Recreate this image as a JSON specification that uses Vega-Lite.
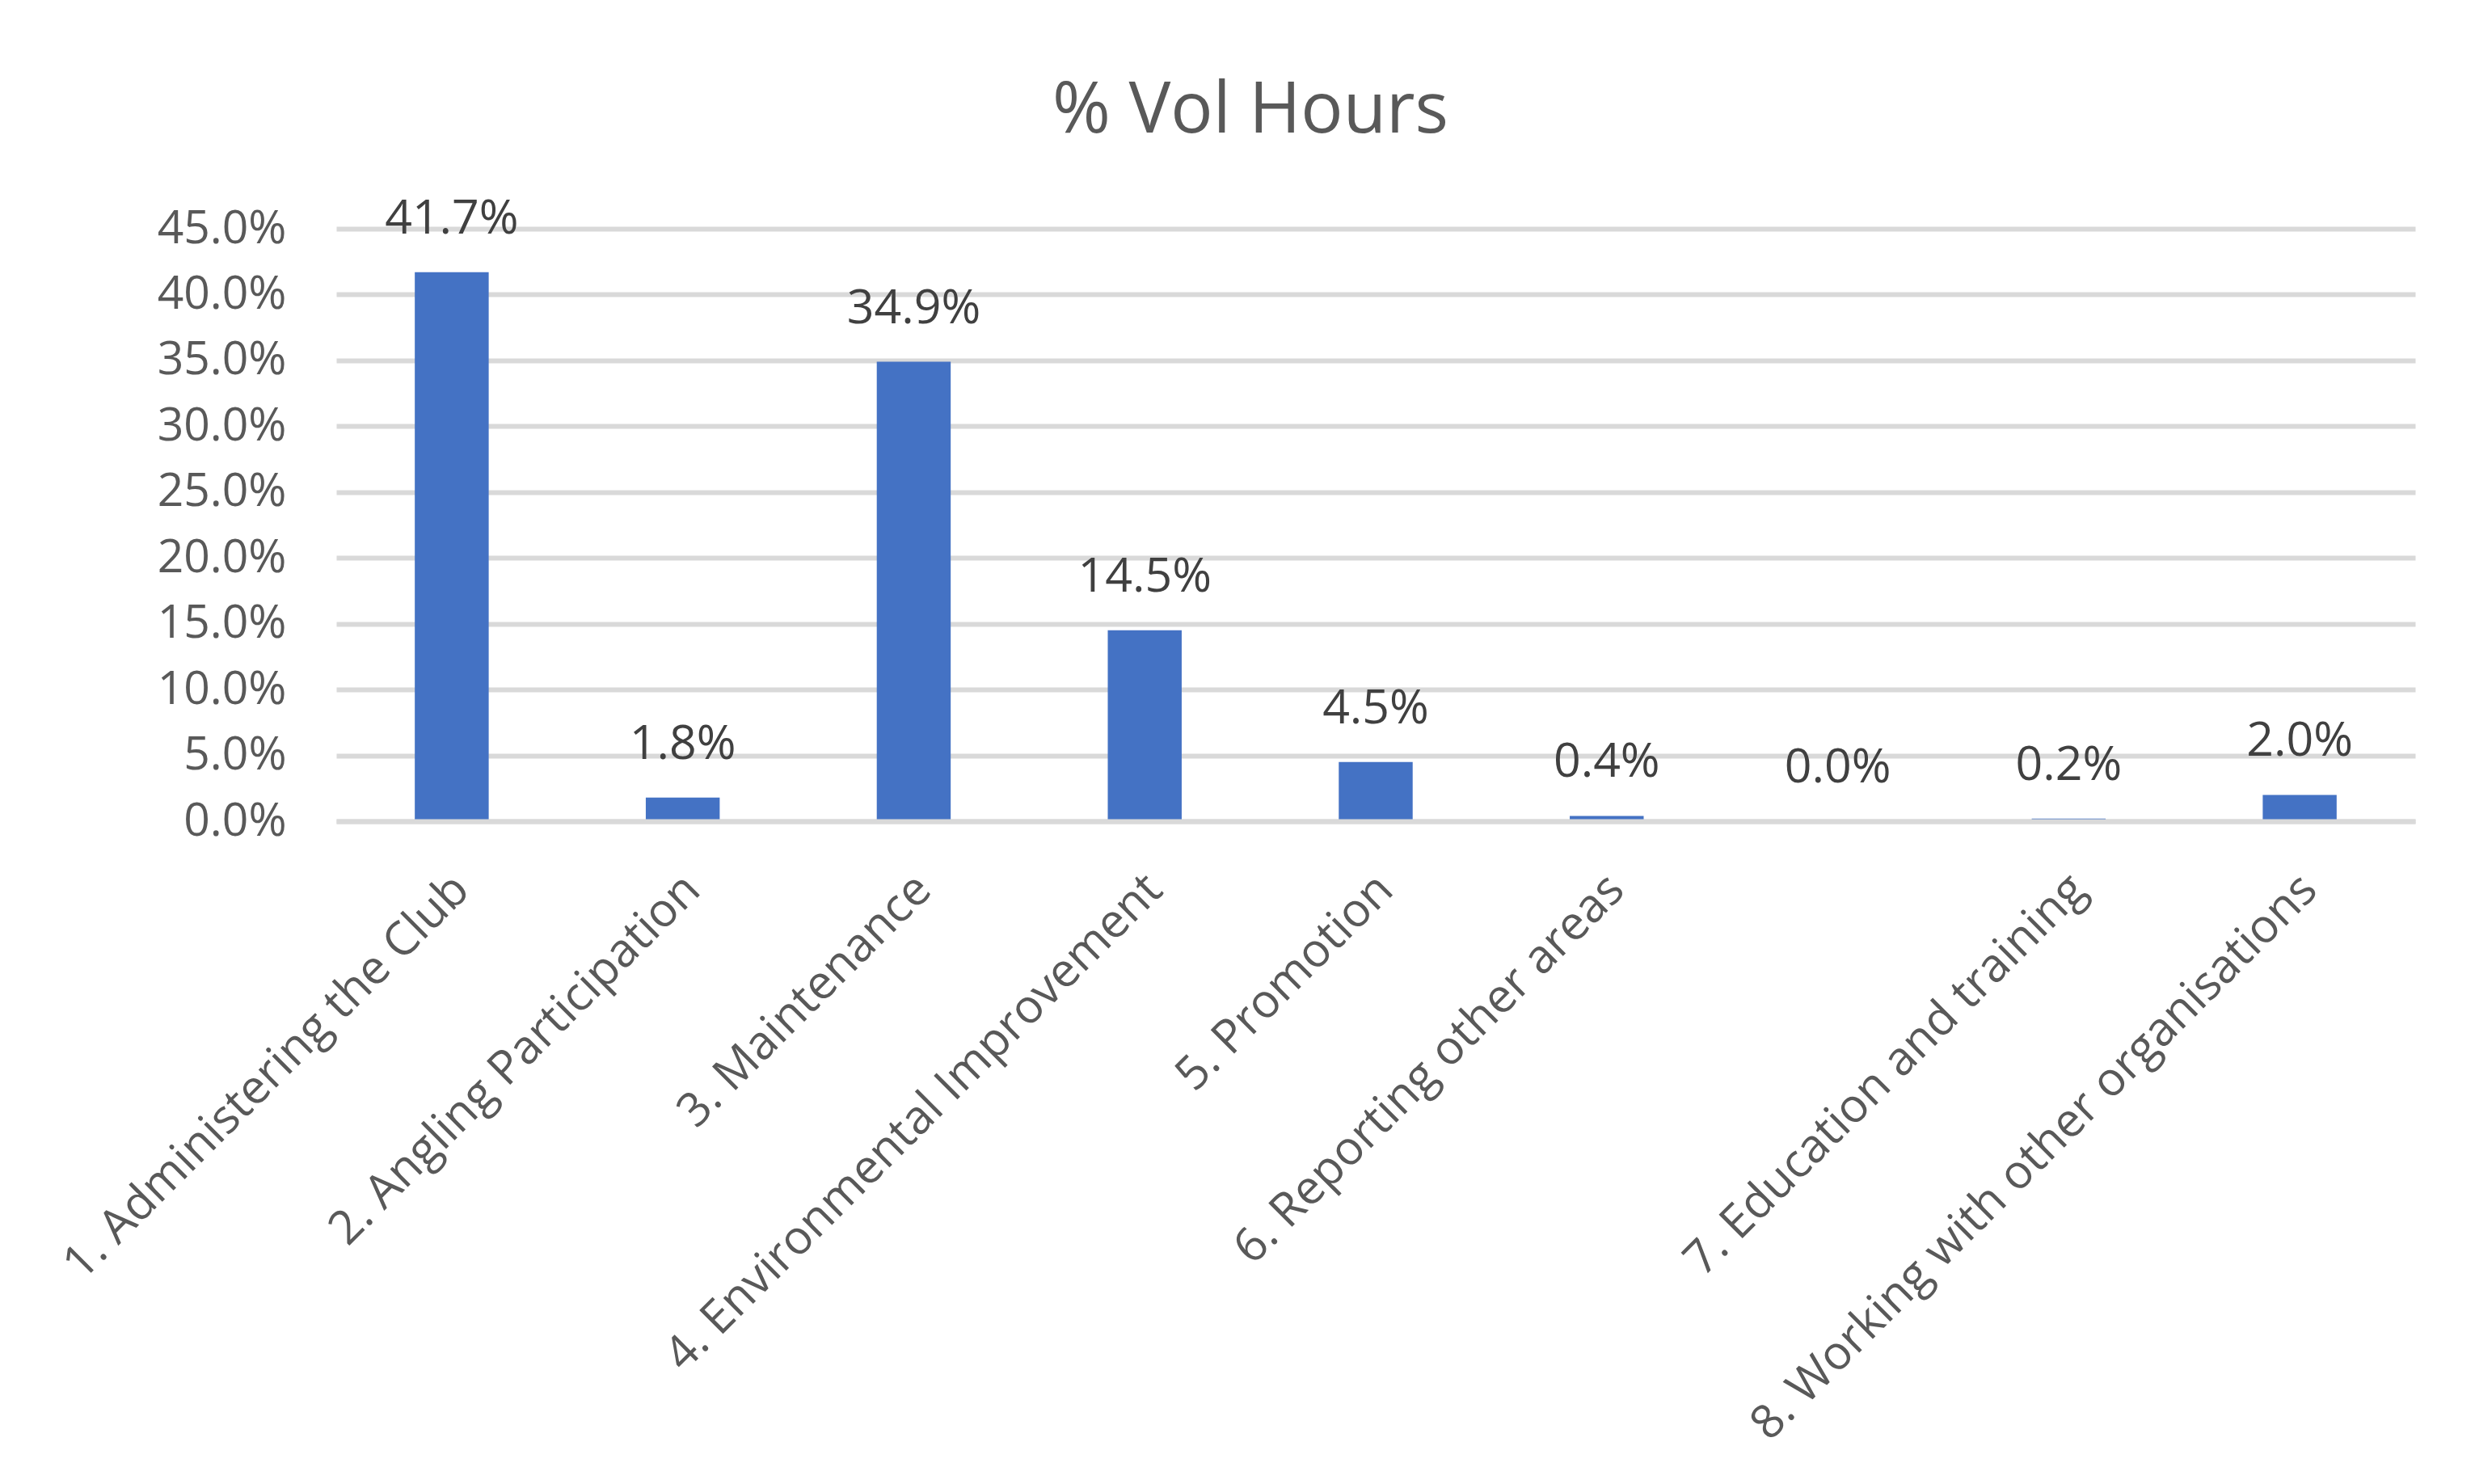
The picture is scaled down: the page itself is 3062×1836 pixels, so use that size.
{
  "$schema": "https://vega.github.io/schema/vega-lite/v6.json",
  "autosize": {"type": "none"},
  "width": 2572,
  "height": 733,
  "padding": {"left": 416, "top": 283, "right": 74, "bottom": 820},
  "background": "white",
  "title": {
    "text": "% Vol Hours",
    "font": "Open Sans",
    "fontSize": 87,
    "fontWeight": "normal",
    "color": "#595959",
    "anchor": "middle",
    "frame": "group",
    "dx": -155,
    "offset": 60
  },
  "data": {
    "values": [
      {"category": "1. Administering the Club", "share": 0.417},
      {"category": "2. Angling Participation", "share": 0.018},
      {"category": "3. Maintenance", "share": 0.349},
      {"category": "4. Environmental Improvement", "share": 0.145},
      {"category": "5. Promotion", "share": 0.045},
      {"category": "6. Reporting other areas", "share": 0.004},
      {"category": "", "share": 0.0},
      {"category": "7. Education and training", "share": 0.002},
      {"category": "8. Working with other organisations", "share": 0.02}
    ]
  },
  "encoding": {
    "x": {
      "field": "category",
      "type": "nominal",
      "sort": null,
      "scale": {"paddingInner": 0.68, "paddingOuter": 0.34},
      "axis": {
        "title": null,
        "zindex": 1,
        "labelAngle": -45,
        "labelAlign": "right",
        "labelBaseline": "top",
        "labelFont": "Open Sans",
        "labelFontSize": 58,
        "labelColor": "#595959",
        "labelPadding": 55,
        "labelOffset": -8,
        "labelLimit": 0,
        "ticks": false,
        "domainColor": "#d9d9d9",
        "domainWidth": 6,
        "grid": false
      }
    },
    "y": {
      "field": "share",
      "type": "quantitative",
      "scale": {"domain": [0, 0.45], "nice": false},
      "axis": {
        "title": null,
        "values": [0, 0.05, 0.1, 0.15, 0.2, 0.25, 0.3, 0.35, 0.4, 0.45],
        "format": ".1%",
        "labelFont": "Open Sans",
        "labelFontSize": 57,
        "labelColor": "#595959",
        "labelPadding": 62,
        "ticks": false,
        "domain": false,
        "grid": true,
        "gridColor": "#d9d9d9",
        "gridWidth": 6
      }
    }
  },
  "layer": [
    {"mark": {"type": "bar", "color": "#4472C4"}},
    {
      "mark": {
        "type": "text",
        "font": "Open Sans",
        "fontSize": 59,
        "color": "#404040",
        "baseline": "alphabetic",
        "dy": -48
      },
      "encoding": {"text": {"field": "share", "type": "quantitative", "format": ".1%"}}
    }
  ],
  "config": {"view": {"stroke": null}}
}
